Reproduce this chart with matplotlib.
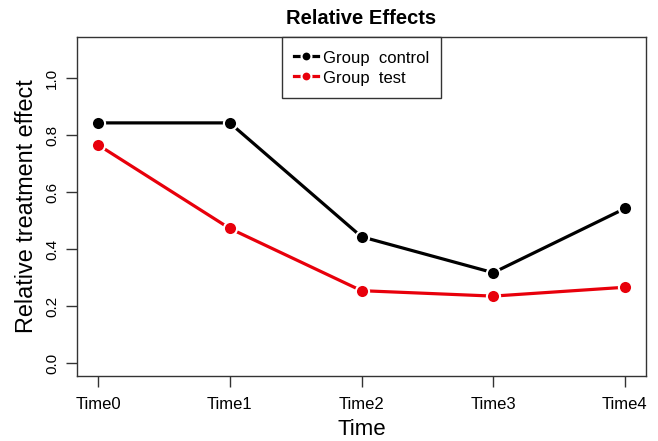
import matplotlib
matplotlib.use("Agg")
import matplotlib.pyplot as plt

times = ["Time0", "Time1", "Time2", "Time3", "Time4"]
control = [0.843, 0.843, 0.444, 0.318, 0.543]
test = [0.766, 0.473, 0.255, 0.236, 0.267]
yticks = [0.0, 0.2, 0.4, 0.6, 0.8, 1.0]

plt.rcParams['font.family'] = ['Liberation Sans', 'DejaVu Sans']
fig = plt.figure(figsize=(6.58, 4.41), dpi=100)
ax = fig.add_axes([77/658, 65/441, 569/658, 339/441])
x = list(range(len(times)))
ax.plot(x, control, color='black', lw=2.3, marker='o', ms=9.5, mec='white', mew=1.5, label='Group  control')
ax.plot(x, test, color='#e8000b', lw=2.3, marker='o', ms=9.5, mec='white', mew=1.5, label='Group  test')
ax.set_xlim(-0.16, 4.16)
ax.set_ylim(-0.044, 1.144)
ax.set_xticks(x)
ax.set_xticklabels(times, fontsize=12)
ax.set_yticks(yticks)
ax.set_yticklabels([f"{v:.1f}" for v in yticks], fontsize=11, rotation=90, va='center')
ax.tick_params(direction='out', length=8, width=1, color='#333333')
ax.tick_params(axis='x', pad=7)
ax.tick_params(axis='y', pad=5)
for s in ax.spines.values():
    s.set_color('#333333')
    s.set_linewidth(1)
ax.set_title("Relative Effects", fontsize=14.5, fontweight='bold', pad=9)
ax.set_xlabel("Time", fontsize=16, labelpad=5)
ax.set_ylabel("Relative treatment effect", fontsize=16.8, labelpad=5)
leg = ax.legend(loc='upper center', bbox_to_anchor=(0.5, 1.0), fontsize=12, frameon=True,
                fancybox=False, edgecolor='#333333', framealpha=1, handlelength=1.45,
                handleheight=1.2, handletextpad=0.3, borderpad=0.7, labelspacing=0.17,
                markerscale=0.75, borderaxespad=0)
leg.get_frame().set_linewidth(1)
fig.savefig("out.png", dpi=100)
